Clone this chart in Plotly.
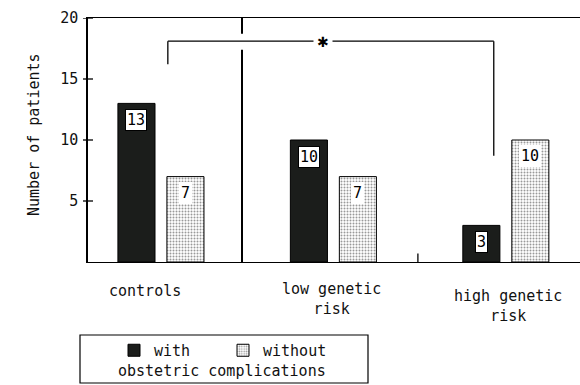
import plotly.graph_objects as go

# ---- data ----
categories = ["controls", "low genetic<br>risk", "high genetic<br>risk"]
with_comp = [13, 10, 3]
without_comp = [7, 7, 10]
series_names = ["with", "without"]
y_ticks = [5, 10, 15, 20]
footer_text = "obstetric complications"
axis_title = "Number of patients"
signif_mark = "✱"

FONT = "DejaVu Sans Mono"
W, H = 580, 385
L, R, T, B = 88, 0, 18, 123
PW, PH = W - L - R, H - T - B


def px_x(p):
    return (p - L) / PW


def px_y(p):
    return (H - B - p) / PH


xs = list(range(len(categories)))
off = 0.142
bw = 0.215

fig = go.Figure()
fig.add_trace(go.Bar(
    x=[x - off for x in xs], y=with_comp, width=bw, name=series_names[0],
    marker=dict(color="#1b1d1b", line=dict(color="black", width=1)),
))
fig.add_trace(go.Bar(
    x=[x + off for x in xs], y=without_comp, width=bw, name=series_names[1],
    marker=dict(color="white", line=dict(color="black", width=1),
                pattern=dict(shape=".", fgcolor="#333", bgcolor="white", size=3, solidity=0.35)),
))

ann = []
# value labels
for x, v in zip(xs, with_comp):
    ann.append(dict(x=x - off, y=v, xref="x", yref="y", text=str(v), showarrow=False,
                    xanchor="center", yanchor="top", yshift=-6, bgcolor="white",
                    bordercolor="black", borderwidth=1, borderpad=1,
                    font=dict(family=FONT, size=15, color="black")))
for x, v in zip(xs, without_comp):
    ann.append(dict(x=x + off, y=v, xref="x", yref="y", text=str(v), showarrow=False,
                    xanchor="center", yanchor="top", yshift=-5, bgcolor="white",
                    borderwidth=0, borderpad=2, font=dict(family=FONT, size=15, color="black")))
# category labels
cat_x = [-0.093, 0.99, 2.01]
cat_y = [291, 299, 306]
for cx, cy, c in zip(cat_x, cat_y, categories):
    ann.append(dict(x=cx, y=px_y(cy), xref="x", yref="paper", text=c, showarrow=False,
                    xanchor="center", yanchor="middle", align="center",
                    font=dict(family=FONT, size=15, color="#111")))
# significance mark
ann.append(dict(x=0.94, y=18.0, xref="x", yref="y", text=signif_mark, showarrow=False,
                xanchor="center", yanchor="middle", bgcolor="white", borderpad=3,
                font=dict(family="DejaVu Sans", size=14, color="black")))
# y title
ann.append(dict(x=px_x(34), y=px_y(135), xref="paper", yref="paper", text=axis_title,
                showarrow=False, textangle=-90, xanchor="center", yanchor="middle",
                font=dict(family=FONT, size=15, color="#111")))
# footer in legend box
ann.append(dict(x=px_x(222), y=px_y(371), xref="paper", yref="paper", text=footer_text,
                showarrow=False, xanchor="center", yanchor="middle",
                font=dict(family=FONT, size=15, color="#111")))

shapes = []
lw = dict(color="black", width=1.3)
# y ticks crossing the axis
for v in y_ticks:
    shapes.append(dict(type="line", xref="paper", yref="y", x0=px_x(83), x1=px_x(93),
                       y0=v, y1=v, line=lw))
# divider
shapes.append(dict(type="line", xref="x", yref="y", x0=0.47, x1=0.47, y0=0, y1=17.4,
                   line=dict(color="black", width=2)))
shapes.append(dict(type="line", xref="x", yref="y", x0=0.47, x1=0.47, y0=18.7, y1=20,
                   line=dict(color="black", width=2)))
# small tick between low and high
shapes.append(dict(type="line", xref="x", yref="y", x0=1.49, x1=1.49, y0=0, y1=0.7,
                   line=lw))
# bracket
shapes.append(dict(type="line", xref="x", yref="y", x0=0.04, x1=0.04, y0=16.2, y1=18.1, line=lw))
shapes.append(dict(type="line", xref="x", yref="y", x0=0.04, x1=1.93, y0=18.1, y1=18.1, line=lw))
shapes.append(dict(type="line", xref="x", yref="y", x0=1.93, x1=1.93, y0=8.7, y1=18.1, line=lw))
# legend box
shapes.append(dict(type="rect", xref="paper", yref="paper",
                   x0=px_x(80), x1=px_x(368), y0=px_y(383), y1=px_y(335),
                   line=dict(color="black", width=1.2), fillcolor="rgba(0,0,0,0)"))

fig.update_layout(
    width=W, height=H,
    margin=dict(l=L, r=R, t=T, b=B, pad=0, autoexpand=False),
    plot_bgcolor="white", paper_bgcolor="white",
    barmode="overlay",
    showlegend=True,
    legend=dict(orientation="h", x=px_x(114), y=px_y(334), xanchor="left", yanchor="top",
                font=dict(family=FONT, size=15, color="#111"),
                bgcolor="rgba(0,0,0,0)", entrywidth=64, entrywidthmode="pixels",
                itemclick=False),
    annotations=ann,
    shapes=shapes,
    xaxis=dict(range=[-0.423, 2.43], showgrid=False, zeroline=False, showticklabels=False,
               ticks="", showline=True, mirror=True, linecolor="black", linewidth=1.3,
               fixedrange=True),
    yaxis=dict(range=[0, 20], tickvals=y_ticks, showgrid=False, zeroline=False,
               ticks="outside", ticklen=5, tickcolor="rgba(0,0,0,0)",
               showline=True, linecolor="black", linewidth=1.5,
               tickfont=dict(family=FONT, size=15, color="#111"), fixedrange=True),
)

fig.write_html("out.html", config={"displayModeBar": False},
               post_script="document.body.style.margin='0px';document.body.style.overflow='hidden';")
